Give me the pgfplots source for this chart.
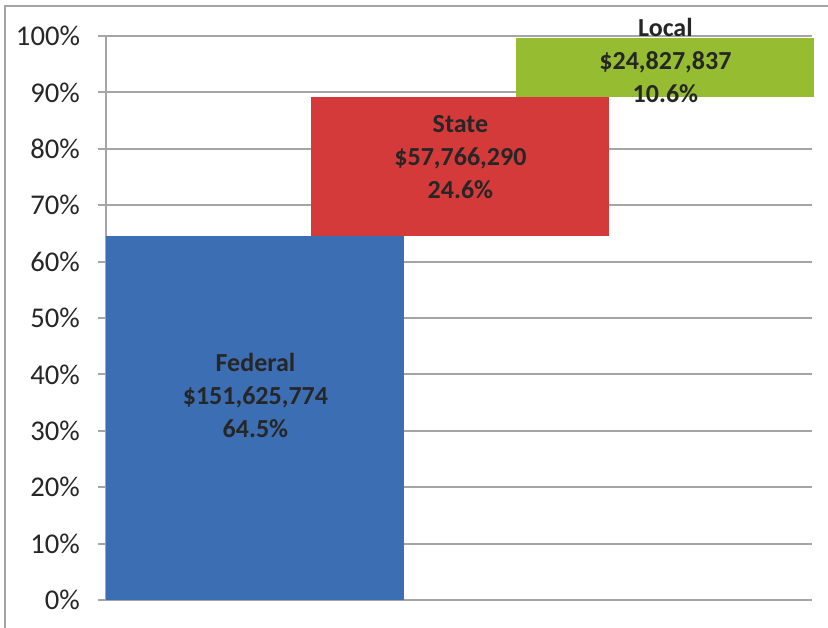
\documentclass[border=0pt]{standalone}
\usepackage{fontspec}
\setmainfont{Carlito}
\usepackage{pgfplots}
\pgfplotsset{compat=1.18}

\definecolor{fedblue}{RGB}{60,110,180}
\definecolor{statered}{RGB}{212,58,58}
\definecolor{localgreen}{RGB}{150,188,50}
\definecolor{gridgray}{RGB}{165,165,168}
\definecolor{labeltext}{RGB}{38,38,38}

\tikzset{barlabel/.style={align=center, text=labeltext,
    font=\bfseries\fontsize{13}{16.5}\selectfont}}

\begin{document}
\begin{tikzpicture}
  \useasboundingbox (0,0) rectangle (414pt,313.5pt);
  \draw[gridgray, line width=1pt] (2.5pt,-10pt) rectangle (430pt,310.5pt);
  \begin{axis}[
      at={(53pt,13.5pt)}, anchor=south west,
      scale only axis, width=353pt, height=282pt,
      xmin=-0.729, xmax=2.715, ymin=0, ymax=100,
      ybar stacked, bar width=1.454,
      axis lines*=left,
      axis line style={gridgray, line width=1pt, -},
      xtick=\empty,
      ytick={0,10,...,100},
      ymajorgrids,
      grid style={gridgray, line width=1pt},
      tick style={gridgray, line width=1pt},
      major tick length=4pt, tick align=outside,
      yticklabel={\pgfmathprintnumber{\tick}\%},
      yticklabel style={font=\fontsize{14.3}{14.3}\selectfont, text=labeltext, xshift=-5.5pt},
      /pgf/number format/assume math mode=true,
      clip=false,
      after end axis/.code={
        \node[barlabel] at (axis cs:0,36.2) {Federal\\\$151,625,774\\64.5\%};
        \node[barlabel] at (axis cs:1,78.5) {State\\\$57,766,290\\24.6\%};
        \node[barlabel] at (axis cs:2,95.7) {Local\\\$24,827,837\\10.6\%};
      },
    ]
    % invisible base for the floating bars
    \addplot[draw=none, fill=none] coordinates {(0,0) (1,64.5) (2,89.1)};
    \addplot[draw=none, fill=fedblue] coordinates {(0,64.5) (1,0) (2,0)};
    \addplot[draw=none, fill=statered] coordinates {(0,0) (1,24.6) (2,0)};
    \addplot[draw=none, fill=localgreen] coordinates {(0,0) (1,0) (2,10.6)};
  \end{axis}
\end{tikzpicture}
\end{document}
